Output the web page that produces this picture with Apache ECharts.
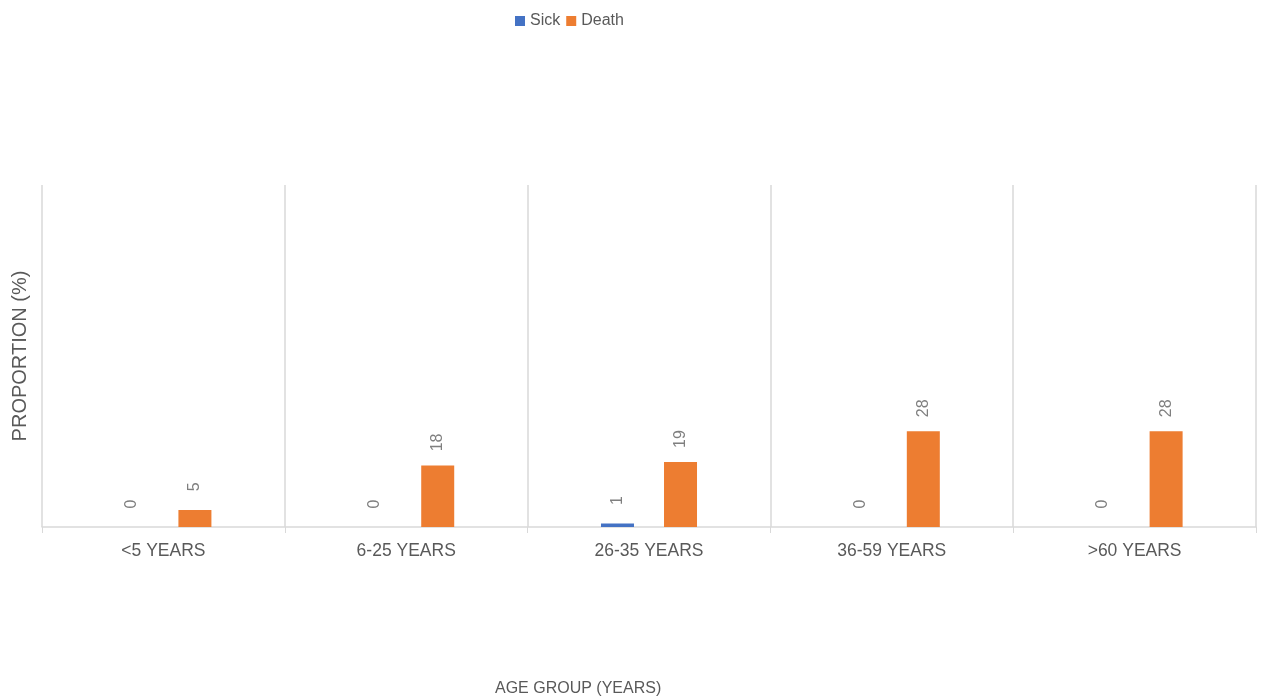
<!DOCTYPE html>
<html>
<head>
<meta charset="utf-8">
<script src="https://cdn.jsdelivr.net/npm/echarts@6/dist/echarts.min.js"></script>
<style>html,body{margin:0;padding:0;background:#fff}#c{width:1262px;height:700px}</style>
</head>
<body>
<div id="c"></div>
<script>
var categories = ['<5 YEARS', '6-25 YEARS', '26-35 YEARS', '36-59 YEARS', '>60 YEARS'];
var sick = [0, 0, 1, 0, 0];
var death = [5, 18, 19, 28, 28];

var chart = echarts.init(document.getElementById('c'));
var labelCfg = {
  show: true, position: 'top', distance: 23, rotate: 90,
  align: 'center', verticalAlign: 'middle',
  color: '#7f7f7f', fontSize: 16, fontFamily: 'Liberation Sans, Arial, sans-serif'
};
chart.setOption({
  animation: false,
  color: ['#4472C4', '#ED7D31'],
  legend: {
    top: 8, left: 510, itemWidth: 10, itemHeight: 10, itemGap: 6,
    icon: 'rect',
    textStyle: { color: '#595959', fontSize: 16, fontFamily: 'Liberation Sans, Arial, sans-serif' },
    data: ['Sick', 'Death']
  },
  grid: { left: 42, right: 6, top: 185, bottom: 173 },
  xAxis: {
    type: 'category', data: categories,
    axisLine: { lineStyle: { color: '#d9d9d9', width: 1.5 } },
    axisTick: { show: true, length: 6, lineStyle: { color: '#d9d9d9' } },
    splitLine: { show: true, lineStyle: { color: '#d9d9d9', width: 1.5 } },
    axisLabel: { color: '#595959', fontSize: 17.5, margin: 15, fontFamily: 'Liberation Sans, Arial, sans-serif' }
  },
  yAxis: {
    type: 'value', min: 0, max: 100,
    axisLine: { show: false }, axisTick: { show: false },
    axisLabel: { show: false }, splitLine: { show: false },
    name: 'PROPORTION (%)', nameLocation: 'middle', nameGap: 12, nameRotate: 90,
    nameTextStyle: { color: '#595959', fontSize: 20, fontFamily: 'Liberation Sans, Arial, sans-serif' }
  },
  graphic: [{
    type: 'text', left: 495, top: 681,
    style: { text: 'AGE GROUP (YEARS)', fill: '#595959', fontSize: 16, fontFamily: 'Liberation Sans, Arial, sans-serif' }
  }],
  series: [
    { name: 'Sick', type: 'bar', data: sick, barWidth: 33, barGap: '91%', label: labelCfg },
    { name: 'Death', type: 'bar', data: death, barWidth: 33, barGap: '91%', label: labelCfg }
  ]
});
</script>
</body>
</html>
